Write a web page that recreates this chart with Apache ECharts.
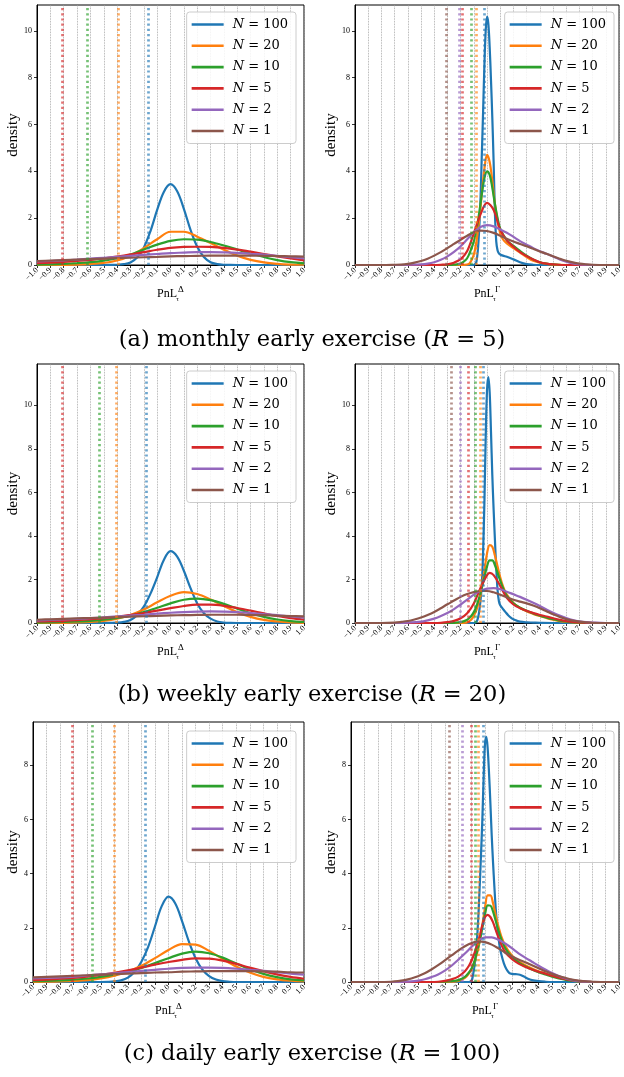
<!DOCTYPE html>
<html lang="en">
<head>
<meta charset="UTF-8">
<title>PnL densities</title>
<script src="https://cdn.jsdelivr.net/npm/echarts@6/dist/echarts.min.js"></script>
<style>
    html, body { margin: 0; padding: 0; background: #fff; }
    #main { width: 624px; height: 1077px; }
</style>
</head>
<body>
<div id="main"></div>
<script>
    // shared x grid (step 0.1) used by the wide Delta-hedge curves
    var gridX = [-1, -0.9, -0.8, -0.7, -0.6, -0.5, -0.4, -0.3, -0.2, -0.1, 0, 0.1, 0.2, 0.3, 0.4, 0.5, 0.6, 0.7, 0.8, 0.9, 1];

    var names = ['N = 100', 'N = 20', 'N = 10', 'N = 5', 'N = 2', 'N = 1'];
    var yTop = [11.1, 11.1, 11.9, 11.9, 9.6, 9.6];

    // ---- (a) monthly, Delta ----
    var monthlyDelta100 = [[-1,0],[-0.5,0],[-0.45,0.005],[-0.4,0.01],[-0.35,0.035],[-0.3,0.11],[-0.25,0.32],[-0.2,0.74],[-0.15,1.45],[-0.1,2.35],[-0.05,3.12],[0,3.45],[0.05,3.15],[0.1,2.4],[0.15,1.5],[0.2,0.78],[0.25,0.34],[0.3,0.12],[0.35,0.04],[0.4,0.01],[0.45,0.003],[0.5,0],[1,0]];
    var monthlyDelta20 = [0,0,0.005,0.015,0.04,0.09,0.19,0.4,0.72,1.1,1.42,1.42,1.21,0.94,0.65,0.4,0.22,0.11,0.05,0.02,0.01];
    var monthlyDelta10 = [0.02,0.03,0.05,0.08,0.12,0.19,0.29,0.45,0.66,0.87,1.03,1.1,1.08,0.98,0.83,0.66,0.49,0.34,0.21,0.12,0.07];
    var monthlyDelta5 = [0.08,0.1,0.13,0.17,0.22,0.28,0.36,0.45,0.55,0.65,0.73,0.77,0.78,0.77,0.73,0.66,0.57,0.47,0.37,0.28,0.2];
    var monthlyDelta2 = [0.15,0.17,0.2,0.23,0.27,0.31,0.35,0.39,0.43,0.47,0.51,0.53,0.55,0.55,0.54,0.52,0.48,0.44,0.39,0.33,0.28];
    var monthlyDelta1 = [0.17,0.19,0.21,0.23,0.25,0.27,0.29,0.31,0.33,0.35,0.37,0.38,0.39,0.4,0.4,0.4,0.4,0.39,0.38,0.37,0.36];
    var monthlyDeltaVaR = [-0.17, -0.39, -0.62, -0.81, null, null];

    // ---- (a) monthly, Gamma ----
    var monthlyGamma100 = [[-1,0],[-0.12,0],[-0.1,0.01],[-0.09,0.03],[-0.08,0.15],[-0.07,0.6],[-0.06,1.45],[-0.05,2.7],[-0.04,4.6],[-0.03,6.5],[-0.02,8.5],[-0.01,10.0],[0,10.6],[0.01,10.3],[0.02,9.3],[0.03,7.9],[0.04,6.3],[0.05,4.4],[0.06,2.2],[0.07,1.0],[0.08,0.62],[0.09,0.5],[0.1,0.45],[0.12,0.4],[0.15,0.35],[0.2,0.24],[0.25,0.12],[0.3,0.04],[0.35,0.01],[0.4,0],[1,0]];
    var monthlyGamma20 = [[-1,0],[-0.2,0],[-0.15,0.02],[-0.13,0.08],[-0.1,0.45],[-0.08,1.0],[-0.06,1.9],[-0.04,3.0],[-0.02,4.1],[0,4.7],[0.02,4.4],[0.04,3.6],[0.06,2.6],[0.08,1.9],[0.1,1.35],[0.12,1.1],[0.15,0.92],[0.2,0.72],[0.25,0.53],[0.3,0.34],[0.35,0.18],[0.4,0.1],[0.45,0.05],[0.5,0.02],[0.6,0],[1,0]];
    var monthlyGamma10 = [[-1,0],[-0.3,0],[-0.25,0.01],[-0.2,0.06],[-0.16,0.22],[-0.14,0.4],[-0.12,0.68],[-0.1,1.0],[-0.08,1.5],[-0.06,2.2],[-0.04,3.0],[-0.02,3.7],[0,4.0],[0.02,3.85],[0.04,3.3],[0.06,2.6],[0.08,2.0],[0.1,1.55],[0.15,1.05],[0.2,0.82],[0.25,0.6],[0.3,0.4],[0.35,0.24],[0.4,0.12],[0.45,0.06],[0.5,0.03],[0.6,0],[1,0]];
    var monthlyGamma5 = [[-1,0],[-0.4,0],[-0.35,0.01],[-0.3,0.03],[-0.25,0.1],[-0.2,0.25],[-0.15,0.6],[-0.1,1.35],[-0.05,2.15],[0,2.65],[0.05,2.35],[0.1,1.5],[0.15,1.05],[0.2,0.78],[0.25,0.55],[0.3,0.38],[0.35,0.24],[0.4,0.12],[0.45,0.06],[0.5,0.03],[0.6,0],[1,0]];
    var monthlyGamma2 = [[-1,0],[-0.7,0],[-0.6,0.01],[-0.5,0.03],[-0.45,0.06],[-0.4,0.12],[-0.35,0.22],[-0.3,0.37],[-0.25,0.56],[-0.2,0.8],[-0.15,1.1],[-0.1,1.4],[-0.05,1.62],[0,1.7],[0.05,1.65],[0.1,1.52],[0.15,1.38],[0.2,1.2],[0.25,1.02],[0.3,0.87],[0.35,0.72],[0.4,0.59],[0.45,0.48],[0.5,0.36],[0.55,0.24],[0.6,0.14],[0.65,0.07],[0.7,0.03],[0.8,0],[1,0]];
    var monthlyGamma1 = [[-1,0],[-0.8,0],[-0.7,0.01],[-0.65,0.02],[-0.6,0.05],[-0.55,0.1],[-0.5,0.17],[-0.45,0.27],[-0.4,0.4],[-0.35,0.55],[-0.3,0.72],[-0.25,0.9],[-0.2,1.08],[-0.15,1.25],[-0.1,1.4],[-0.05,1.47],[0,1.45],[0.05,1.37],[0.1,1.25],[0.15,1.12],[0.2,1.0],[0.25,0.9],[0.3,0.8],[0.35,0.69],[0.4,0.58],[0.45,0.48],[0.5,0.37],[0.55,0.27],[0.6,0.18],[0.65,0.11],[0.7,0.06],[0.75,0.03],[0.8,0.01],[0.9,0],[1,0]];
    var monthlyGammaVaR = [-0.024, -0.077, -0.118, -0.19, -0.213, -0.31];

    // ---- (b) weekly, Delta ----
    var weeklyDelta100 = [[-1,0],[-0.5,0],[-0.45,0.005],[-0.4,0.015],[-0.35,0.05],[-0.3,0.14],[-0.25,0.36],[-0.2,0.75],[-0.15,1.35],[-0.1,2.1],[-0.05,2.9],[0,3.3],[0.05,3.05],[0.1,2.4],[0.15,1.6],[0.2,0.9],[0.25,0.45],[0.3,0.2],[0.35,0.07],[0.4,0.02],[0.45,0.005],[0.5,0],[1,0]];
    var weeklyDelta20 = [0,0.005,0.01,0.025,0.05,0.1,0.2,0.37,0.62,0.95,1.25,1.42,1.33,1.08,0.78,0.5,0.28,0.14,0.07,0.03,0.01];
    var weeklyDelta10 = [0.02,0.03,0.05,0.07,0.1,0.15,0.23,0.34,0.5,0.7,0.9,1.07,1.12,1.05,0.88,0.66,0.45,0.28,0.16,0.09,0.05];
    var weeklyDelta5 = [0.07,0.08,0.1,0.13,0.17,0.22,0.29,0.37,0.46,0.57,0.68,0.78,0.84,0.84,0.79,0.69,0.57,0.44,0.32,0.22,0.15];
    var weeklyDelta2 = [0.12,0.14,0.16,0.19,0.22,0.26,0.3,0.34,0.38,0.43,0.47,0.5,0.52,0.53,0.52,0.5,0.46,0.41,0.36,0.3,0.25];
    var weeklyDelta1 = [0.15,0.17,0.19,0.21,0.23,0.25,0.27,0.29,0.31,0.33,0.35,0.36,0.37,0.38,0.38,0.38,0.37,0.36,0.34,0.32,0.3];
    var weeklyDeltaVaR = [-0.185, -0.405, -0.53, -0.81, null, null];

    // ---- (b) weekly, Gamma ----
    var weeklyGamma100 = [[-1,0],[-0.1,0],[-0.09,0.02],[-0.08,0.05],[-0.07,0.2],[-0.06,0.5],[-0.05,1.0],[-0.04,1.7],[-0.03,3.2],[-0.02,5.5],[-0.01,8.5],[0,10.7],[0.01,11.3],[0.02,10.6],[0.03,8.8],[0.04,6.8],[0.05,5.2],[0.06,3.8],[0.07,2.5],[0.08,1.5],[0.09,1.0],[0.1,0.82],[0.12,0.65],[0.14,0.5],[0.16,0.36],[0.18,0.25],[0.2,0.17],[0.22,0.12],[0.25,0.06],[0.3,0.03],[0.35,0.02],[0.4,0.01],[0.5,0],[1,0]];
    var weeklyGamma20 = [[-1,0],[-0.2,0],[-0.15,0.03],[-0.12,0.15],[-0.1,0.33],[-0.08,0.6],[-0.06,1.05],[-0.04,1.6],[-0.02,2.4],[0,3.2],[0.02,3.58],[0.04,3.5],[0.06,3.1],[0.08,2.6],[0.1,2.1],[0.12,1.7],[0.15,1.3],[0.2,0.92],[0.25,0.7],[0.3,0.54],[0.35,0.42],[0.4,0.32],[0.45,0.23],[0.5,0.15],[0.55,0.09],[0.6,0.05],[0.7,0.01],[0.8,0],[1,0]];
    var weeklyGamma10 = [[-1,0],[-0.3,0],[-0.25,0.01],[-0.2,0.04],[-0.15,0.15],[-0.12,0.32],[-0.1,0.5],[-0.08,0.78],[-0.06,1.15],[-0.04,1.6],[-0.02,2.1],[0,2.6],[0.02,2.88],[0.04,2.88],[0.06,2.65],[0.08,2.3],[0.1,1.95],[0.12,1.62],[0.15,1.25],[0.2,0.9],[0.25,0.7],[0.3,0.56],[0.35,0.44],[0.4,0.34],[0.45,0.25],[0.5,0.17],[0.55,0.11],[0.6,0.06],[0.7,0.02],[0.8,0],[1,0]];
    var weeklyGamma5 = [[-1,0],[-0.4,0],[-0.35,0.01],[-0.3,0.04],[-0.25,0.1],[-0.2,0.22],[-0.15,0.45],[-0.1,0.9],[-0.05,1.6],[0,2.2],[0.02,2.3],[0.05,2.2],[0.1,1.7],[0.15,1.15],[0.2,0.85],[0.25,0.68],[0.3,0.56],[0.35,0.46],[0.4,0.37],[0.45,0.3],[0.5,0.22],[0.55,0.15],[0.6,0.09],[0.65,0.05],[0.7,0.03],[0.8,0],[1,0]];
    var weeklyGamma2 = [[-1,0],[-0.7,0],[-0.6,0.02],[-0.5,0.06],[-0.45,0.12],[-0.4,0.2],[-0.35,0.32],[-0.3,0.46],[-0.25,0.64],[-0.2,0.85],[-0.15,1.07],[-0.1,1.3],[-0.05,1.48],[0,1.58],[0.05,1.6],[0.1,1.55],[0.15,1.44],[0.2,1.32],[0.25,1.2],[0.3,1.07],[0.35,0.93],[0.4,0.78],[0.45,0.62],[0.5,0.47],[0.55,0.34],[0.6,0.23],[0.65,0.14],[0.7,0.08],[0.75,0.04],[0.8,0.02],[0.9,0],[1,0]];
    var weeklyGamma1 = [[-1,0],[-0.8,0],[-0.7,0.02],[-0.65,0.05],[-0.6,0.09],[-0.55,0.16],[-0.5,0.25],[-0.45,0.37],[-0.4,0.51],[-0.35,0.68],[-0.3,0.86],[-0.25,1.03],[-0.2,1.2],[-0.15,1.33],[-0.1,1.42],[-0.05,1.47],[0,1.47],[0.05,1.41],[0.1,1.3],[0.15,1.18],[0.2,1.07],[0.25,0.98],[0.3,0.9],[0.35,0.8],[0.4,0.68],[0.45,0.54],[0.5,0.4],[0.55,0.28],[0.6,0.18],[0.65,0.11],[0.7,0.06],[0.75,0.03],[0.8,0.01],[0.9,0],[1,0]];
    var weeklyGammaVaR = [-0.031, -0.053, -0.09, -0.144, -0.195, -0.273];

    // ---- (c) daily, Delta ----
    var dailyDelta100 = [[-1,0],[-0.5,0],[-0.45,0.005],[-0.4,0.02],[-0.35,0.06],[-0.3,0.16],[-0.25,0.38],[-0.2,0.75],[-0.15,1.3],[-0.1,2.05],[-0.05,2.8],[0,3.15],[0.05,2.9],[0.1,2.25],[0.15,1.5],[0.2,0.88],[0.25,0.46],[0.3,0.22],[0.35,0.09],[0.4,0.03],[0.45,0.01],[0.5,0],[1,0]];
    var dailyDelta20 = [0.005,0.01,0.02,0.04,0.07,0.13,0.23,0.39,0.6,0.88,1.18,1.4,1.38,1.15,0.85,0.57,0.35,0.19,0.1,0.05,0.02];
    var dailyDelta10 = [0.03,0.04,0.06,0.09,0.13,0.19,0.27,0.38,0.52,0.7,0.88,1.05,1.12,1.06,0.9,0.68,0.47,0.3,0.18,0.1,0.06];
    var dailyDelta5 = [0.07,0.09,0.12,0.15,0.2,0.26,0.34,0.43,0.53,0.64,0.74,0.82,0.87,0.86,0.79,0.67,0.53,0.4,0.28,0.19,0.12];
    var dailyDelta2 = [0.13,0.15,0.17,0.2,0.24,0.28,0.32,0.37,0.41,0.45,0.49,0.52,0.53,0.53,0.52,0.49,0.45,0.41,0.36,0.31,0.27];
    var dailyDelta1 = [0.17,0.19,0.21,0.23,0.25,0.27,0.29,0.31,0.33,0.35,0.36,0.38,0.39,0.4,0.4,0.4,0.4,0.39,0.38,0.36,0.35];
    var dailyDeltaVaR = [-0.17, -0.4, -0.557, -0.71, null, null];

    // ---- (c) daily, Gamma ----
    var dailyGamma100 = [[-1,0],[-0.12,0],[-0.1,0.05],[-0.09,0.25],[-0.08,0.55],[-0.07,0.95],[-0.06,1.55],[-0.05,2.4],[-0.04,3.5],[-0.03,4.7],[-0.02,6.0],[-0.01,7.6],[0,8.8],[0.01,9.05],[0.02,8.6],[0.03,7.7],[0.04,6.6],[0.05,5.4],[0.06,4.4],[0.07,3.5],[0.08,2.7],[0.09,2.1],[0.1,1.65],[0.11,1.3],[0.12,1.05],[0.14,0.7],[0.16,0.47],[0.18,0.34],[0.2,0.3],[0.23,0.29],[0.26,0.27],[0.29,0.2],[0.32,0.12],[0.35,0.07],[0.4,0.03],[0.45,0.01],[0.5,0],[1,0]];
    var dailyGamma20 = [[-1,0],[-0.3,0],[-0.25,0.01],[-0.2,0.04],[-0.15,0.15],[-0.12,0.32],[-0.1,0.48],[-0.08,0.72],[-0.06,1.05],[-0.04,1.5],[-0.02,2.1],[0,2.75],[0.02,3.2],[0.04,3.2],[0.06,2.9],[0.08,2.45],[0.1,2.05],[0.12,1.7],[0.15,1.35],[0.2,0.98],[0.25,0.77],[0.3,0.62],[0.35,0.5],[0.4,0.4],[0.45,0.32],[0.5,0.24],[0.55,0.16],[0.6,0.1],[0.65,0.05],[0.7,0.02],[0.8,0],[1,0]];
    var dailyGamma10 = [[-1,0],[-0.35,0],[-0.3,0.01],[-0.25,0.03],[-0.2,0.07],[-0.15,0.19],[-0.12,0.35],[-0.1,0.5],[-0.08,0.75],[-0.06,1.1],[-0.04,1.5],[-0.02,2.0],[0,2.5],[0.02,2.83],[0.04,2.82],[0.06,2.6],[0.08,2.25],[0.1,1.9],[0.12,1.6],[0.15,1.25],[0.2,0.92],[0.25,0.72],[0.3,0.58],[0.35,0.46],[0.4,0.36],[0.45,0.28],[0.5,0.2],[0.55,0.13],[0.6,0.08],[0.65,0.04],[0.7,0.02],[0.8,0],[1,0]];
    var dailyGamma5 = [[-1,0],[-0.4,0],[-0.35,0.01],[-0.3,0.04],[-0.25,0.1],[-0.2,0.2],[-0.15,0.4],[-0.12,0.6],[-0.1,0.8],[-0.08,1.05],[-0.06,1.35],[-0.04,1.7],[-0.02,2.1],[0,2.4],[0.02,2.48],[0.04,2.4],[0.06,2.2],[0.08,1.92],[0.1,1.65],[0.12,1.4],[0.15,1.1],[0.2,0.85],[0.25,0.68],[0.3,0.56],[0.35,0.46],[0.4,0.38],[0.45,0.31],[0.5,0.23],[0.55,0.16],[0.6,0.1],[0.65,0.06],[0.7,0.03],[0.8,0],[1,0]];
    var dailyGamma2 = [[-1,0],[-0.7,0],[-0.6,0.01],[-0.55,0.02],[-0.5,0.05],[-0.45,0.1],[-0.4,0.18],[-0.35,0.28],[-0.3,0.42],[-0.25,0.6],[-0.2,0.82],[-0.15,1.05],[-0.1,1.3],[-0.05,1.52],[0,1.65],[0.05,1.65],[0.1,1.56],[0.15,1.42],[0.2,1.25],[0.25,1.06],[0.3,0.9],[0.35,0.75],[0.4,0.6],[0.45,0.46],[0.5,0.33],[0.55,0.22],[0.6,0.13],[0.65,0.07],[0.7,0.03],[0.8,0],[1,0]];
    var dailyGamma1 = [[-1,0],[-0.8,0],[-0.7,0.01],[-0.65,0.03],[-0.6,0.07],[-0.55,0.13],[-0.5,0.21],[-0.45,0.32],[-0.4,0.46],[-0.35,0.62],[-0.3,0.8],[-0.25,0.98],[-0.2,1.16],[-0.15,1.32],[-0.1,1.44],[-0.05,1.5],[0,1.47],[0.05,1.38],[0.1,1.24],[0.15,1.08],[0.2,0.95],[0.25,0.83],[0.3,0.73],[0.35,0.62],[0.4,0.51],[0.45,0.4],[0.5,0.3],[0.55,0.22],[0.6,0.15],[0.65,0.09],[0.7,0.05],[0.75,0.02],[0.8,0.01],[0.9,0],[1,0]];
    var dailyGammaVaR = [-0.015, -0.05, -0.066, -0.1, -0.175, -0.27];

    var captions = ['(a) monthly early exercise ({i|R} = 5)', '(b) weekly early exercise ({i|R} = 20)', '(c) daily early exercise ({i|R} = 100)'];

    var colors = ['#1f77b4', '#ff7f0e', '#2ca02c', '#d62728', '#9467bd', '#8c564b'];
    var serif = 'Liberation Serif';
    var wideSerif = 'DejaVu Serif';

    function onGrid(ys) {
        return gridX.map(function (x, i) { return [x, ys[i]]; });
    }

    var panels = [
        {curves: [monthlyDelta100, onGrid(monthlyDelta20), onGrid(monthlyDelta10), onGrid(monthlyDelta5), onGrid(monthlyDelta2), onGrid(monthlyDelta1)], vars: monthlyDeltaVaR, hedge: 'Δ'},
        {curves: [monthlyGamma100, monthlyGamma20, monthlyGamma10, monthlyGamma5, monthlyGamma2, monthlyGamma1], vars: monthlyGammaVaR, hedge: 'Γ'},
        {curves: [weeklyDelta100, onGrid(weeklyDelta20), onGrid(weeklyDelta10), onGrid(weeklyDelta5), onGrid(weeklyDelta2), onGrid(weeklyDelta1)], vars: weeklyDeltaVaR, hedge: 'Δ'},
        {curves: [weeklyGamma100, weeklyGamma20, weeklyGamma10, weeklyGamma5, weeklyGamma2, weeklyGamma1], vars: weeklyGammaVaR, hedge: 'Γ'},
        {curves: [dailyDelta100, onGrid(dailyDelta20), onGrid(dailyDelta10), onGrid(dailyDelta5), onGrid(dailyDelta2), onGrid(dailyDelta1)], vars: dailyDeltaVaR, hedge: 'Δ'},
        {curves: [dailyGamma100, dailyGamma20, dailyGamma10, dailyGamma5, dailyGamma2, dailyGamma1], vars: dailyGammaVaR, hedge: 'Γ'}
    ];

    // plot boxes in page pixels
    var boxes = [
        {left: 37, top: 5, width: 267, height: 260},
        {left: 355, top: 5, width: 267, height: 260},
        {left: 37, top: 364, width: 267, height: 259},
        {left: 355, top: 364, width: 267, height: 259},
        {left: 33, top: 722, width: 271, height: 260},
        {left: 351, top: 722, width: 271, height: 260}
    ];
    var legendTops = [12, 12, 371, 371, 731, 731];
    var captionTops = [329, 684, 1043];

    var grids = [], xAxes = [], yAxes = [], series = [], legends = [], graphics = [];

    panels.forEach(function (p, g) {
        var b = boxes[g];
        grids.push({
            left: b.left, top: b.top, width: b.width, height: b.height,
            show: true, borderColor: '#000', borderWidth: 1, backgroundColor: 'transparent'
        });
        xAxes.push({
            type: 'value', gridIndex: g, min: -1, max: 1, interval: 0.1,
            name: 'PnL{sub|τ}{sup|' + p.hedge + '}',
            nameLocation: 'middle', nameGap: 20,
            nameTextStyle: {
                fontFamily: serif, fontSize: 12, color: '#000', lineHeight: 18,
                rich: {
                    sub: {fontFamily: serif, fontSize: 7, verticalAlign: 'bottom', width: 1, lineHeight: 18},
                    sup: {fontFamily: serif, fontSize: 9, verticalAlign: 'top', lineHeight: 18}
                }
            },
            axisLine: {show: true, onZero: false, lineStyle: {color: '#000', width: 1}},
            axisTick: {show: true, length: 3, lineStyle: {color: '#000', width: 0.8}},
            axisLabel: {
                rotate: 45, fontSize: 8, fontFamily: serif, color: '#000', margin: 4, hideOverlap: false,
                formatter: function (v) { return (v < -1e-9 ? '\u2212' : '') + Math.abs(v).toFixed(1); }
            },
            splitLine: {show: true, lineStyle: {type: 'dotted', color: '#9a9a9a', width: 0.8}}
        });
        yAxes.push({
            type: 'value', gridIndex: g, min: 0, max: yTop[g], interval: 2,
            name: 'density', nameLocation: 'middle', nameGap: g >= 4 ? 11 : 15, nameRotate: 90,
            nameTextStyle: {fontFamily: serif, fontSize: 15, color: '#000'},
            axisLine: {show: true, onZero: false, lineStyle: {color: '#000', width: 1}},
            axisTick: {show: true, length: 3, lineStyle: {color: '#000', width: 0.8}},
            axisLabel: {fontSize: 8, fontFamily: serif, color: '#000', margin: 5, showMaxLabel: false},
            splitLine: {show: false}
        });
        p.curves.forEach(function (data, k) {
            var s = {
                type: 'line', name: names[k], xAxisIndex: g, yAxisIndex: g,
                data: data, showSymbol: false, smooth: 0.35,
                lineStyle: {width: 2.2, color: colors[k]},
                itemStyle: {color: colors[k]},
                z: 3
            };
            if (p.vars[k] !== null) {
                s.markLine = {
                    silent: true, symbol: 'none', animation: false,
                    label: {show: false},
                    lineStyle: {type: [2.2, 3], width: 2.7, color: colors[k], opacity: 0.65},
                    data: [{xAxis: p.vars[k]}]
                };
            }
            series.push(s);
        });
        legends.push({
            data: names, orient: 'vertical',
            top: legendTops[g], right: g % 2 === 0 ? 328 : 10,
            icon: 'rect', itemWidth: 32, itemHeight: 2.6, itemGap: 6.3,
            padding: [5, 8, 5, 5],
            backgroundColor: 'rgba(255,255,255,0.85)', borderColor: '#cccccc', borderWidth: 1, borderRadius: 3,
            selectedMode: false,
            formatter: function (name) { return '{i|N} = ' + name.split('= ')[1]; },
            textStyle: {
                fontFamily: wideSerif, fontSize: 13, color: '#000', lineHeight: 15, padding: [0, 0, 0, 4],
                rich: {i: {fontFamily: wideSerif, fontStyle: 'italic', fontSize: 13, lineHeight: 15}}
            }
        });
    });

    captions.forEach(function (c, i) {
        graphics.push({
            type: 'text', left: 'center', top: captionTops[i],
            style: {
                text: c, fontFamily: wideSerif, fontSize: 22.5, fill: '#000',
                rich: {i: {fontFamily: wideSerif, fontStyle: 'italic', fontSize: 22.5}}
            }
        });
    });

    var myChart = echarts.init(document.getElementById('main'));
    myChart.setOption({
        animation: false,
        backgroundColor: '#fff',
        grid: grids,
        xAxis: xAxes,
        yAxis: yAxes,
        legend: legends,
        series: series,
        graphic: graphics
    });
</script>
</body>
</html>
